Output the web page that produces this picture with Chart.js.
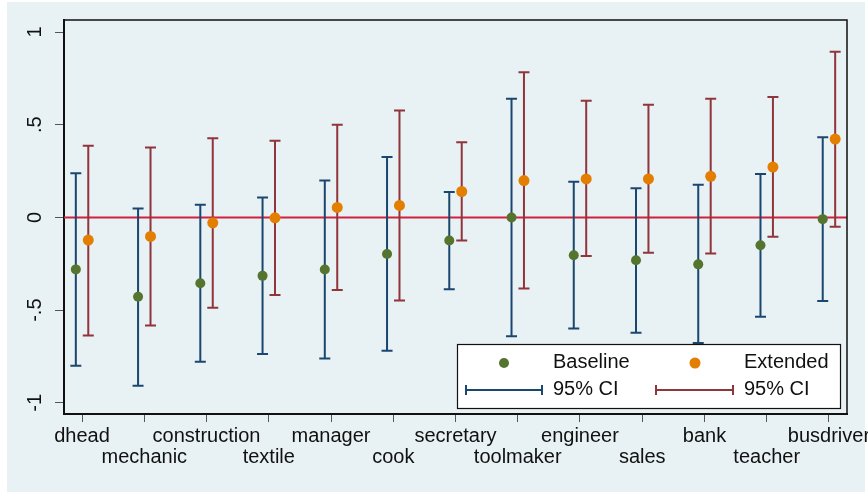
<!DOCTYPE html>
<html>
<head>
<meta charset="utf-8">
<script src="https://cdn.jsdelivr.net/npm/chart.js@4/dist/chart.umd.min.js"></script>
<style>
  html, body { margin:0; padding:0; background:#fff; }
  canvas { display:block; }
</style>
</head>
<body>
<canvas id="coefChart" width="868" height="492"></canvas>
<script>
const categories = ['dhead','mechanic','construction','textile','manager','cook','secretary','toolmaker','engineer','sales','bank','teacher','busdriver'];

const baseCoef = [-0.28, -0.428, -0.355, -0.315, -0.281, -0.197, -0.124, 0.0, -0.204, -0.231, -0.253, -0.15, -0.009];
const baseLo   = [-0.80, -0.907, -0.778, -0.737, -0.76, -0.719, -0.387, -0.64, -0.599, -0.622, -0.677, -0.536, -0.45];
const baseHi   = [0.238, 0.048, 0.068, 0.108, 0.199, 0.326, 0.138, 0.64, 0.192, 0.158, 0.176, 0.235, 0.432];

const extCoef = [-0.122, -0.102, -0.029, -0.002, 0.054, 0.065, 0.14, 0.199, 0.208, 0.208, 0.222, 0.272, 0.423];
const extLo   = [-0.636, -0.583, -0.487, -0.418, -0.391, -0.448, -0.124, -0.383, -0.208, -0.19, -0.195, -0.104, -0.05];
const extHi   = [0.387, 0.378, 0.427, 0.414, 0.5, 0.577, 0.405, 0.783, 0.629, 0.608, 0.64, 0.65, 0.894];

const yTicks = [-1, -0.5, 0, 0.5, 1];
const yTickLabels = ['-1', '-.5', '0', '.5', '1'];

const NAVY = '#1a476f', MAROON = '#90353b', GREEN = '#55752f', ORANGE = '#e37e00';
const BG = '#e8f1f3';
const FONT = "'Liberation Sans', Arial, sans-serif";
const SHIFT = 0.1; // side-by-side offset of the two models

const ciSets = [
  {lo: baseLo, hi: baseHi, dx: -SHIFT, color: NAVY},
  {lo: extLo,  hi: extHi,  dx:  SHIFT, color: MAROON}
];

// page background, zero line, CI whiskers, frame and legend
const decor = {
  id: 'decor',
  beforeDraw(chart){
    const c = chart.ctx;
    c.save();
    c.fillStyle = BG;
    c.fillRect(7, 2, 858, 490);
    c.restore();
  },
  beforeDatasetsDraw(chart){
    const c = chart.ctx, xs = chart.scales.x, ys = chart.scales.y, a = chart.chartArea;
    c.save();
    // y = 0 reference line
    c.strokeStyle = '#d0213f'; c.lineWidth = 2;
    const y0 = ys.getPixelForValue(0);
    c.beginPath(); c.moveTo(a.left, y0); c.lineTo(a.right, y0); c.stroke();
    // confidence intervals
    c.lineWidth = 2;
    ciSets.forEach(s=>{
      c.strokeStyle = s.color;
      categories.forEach((_, i)=>{
        const x = xs.getPixelForValue(i + 1 + s.dx);
        const yl = ys.getPixelForValue(s.lo[i]), yh = ys.getPixelForValue(s.hi[i]);
        c.beginPath();
        c.moveTo(x, yl); c.lineTo(x, yh);
        c.moveTo(x - 5.5, yl); c.lineTo(x + 5.5, yl);
        c.moveTo(x - 5.5, yh); c.lineTo(x + 5.5, yh);
        c.stroke();
      });
    });
    c.restore();
  },
  afterDraw(chart){
    const c = chart.ctx, ys = chart.scales.y, a = chart.chartArea;
    c.save();
    // top and right frame
    c.strokeStyle = '#111'; c.lineWidth = 1.5;
    c.beginPath(); c.moveTo(a.left, a.top); c.lineTo(a.right, a.top); c.lineTo(a.right, a.bottom); c.stroke();
    // rotated y tick labels
    c.fillStyle = '#111';
    c.font = '20px ' + FONT;
    c.textAlign = 'center'; c.textBaseline = 'middle';
    yTicks.forEach((v, i)=>{
      c.save();
      c.translate(35, ys.getPixelForValue(v));
      c.rotate(-Math.PI / 2);
      c.fillText(yTickLabels[i], 0, 0);
      c.restore();
    });
    // legend
    const lx = 457, ly = 344, lw = 383, lh = 64;
    c.fillStyle = '#fff'; c.fillRect(lx, ly, lw, lh);
    c.strokeStyle = '#111'; c.lineWidth = 1.2; c.strokeRect(lx + 0.5, ly + 0.5, lw, lh);
    c.textAlign = 'left'; c.fillStyle = '#111';
    c.fillText('Baseline', 553, 362);
    c.fillText('Extended', 744, 362);
    c.fillText('95% CI', 553, 389);
    c.fillText('95% CI', 744, 389);
    c.fillStyle = GREEN; c.beginPath(); c.arc(504, 363, 5, 0, Math.PI * 2); c.fill();
    c.fillStyle = ORANGE; c.beginPath(); c.arc(695, 363, 5.5, 0, Math.PI * 2); c.fill();
    [[466, 542, NAVY], [656, 733, MAROON]].forEach(([x1, x2, col])=>{
      c.strokeStyle = col; c.lineWidth = 2;
      c.beginPath();
      c.moveTo(x1, 390); c.lineTo(x2, 390);
      c.moveTo(x1, 385); c.lineTo(x1, 395);
      c.moveTo(x2, 385); c.lineTo(x2, 395);
      c.stroke();
    });
    c.restore();
  }
};

new Chart(document.getElementById('coefChart'), {
  type: 'scatter',
  data: {
    datasets: [
      {label:'Baseline', data: baseCoef.map((v, i)=>({x: i + 1 - SHIFT, y: v})), backgroundColor: GREEN, pointRadius: 5, borderWidth: 0},
      {label:'Extended', data: extCoef.map((v, i)=>({x: i + 1 + SHIFT, y: v})), backgroundColor: ORANGE, pointRadius: 5.5, borderWidth: 0}
    ]
  },
  options: {
    responsive: false,
    animation: false,
    devicePixelRatio: 1,
    layout: {padding: {left: 0, top: 20, right: 21, bottom: 0}},
    plugins: {legend: {display: false}, tooltip: {enabled: false}},
    scales: {
      x: {
        type: 'linear', min: 0.71, max: 13.29,
        afterBuildTicks: s => { s.ticks = categories.map((_, i)=>({value: i + 1})); },
        // let the last label run past the frame instead of shrinking the plot
        afterFit: s => { s.height = 78; s.paddingLeft = 0; s.paddingRight = 0; },
        border: {display: true, color: '#111', width: 2},
        grid: {display: true, drawOnChartArea: false, drawTicks: true, tickLength: 8, color: '#555'},
        ticks: {
          autoSkip: false, maxRotation: 0, minRotation: 0, padding: 4,
          color: '#111', font: {family: FONT, size: 20, lineHeight: 1.05},
          callback: v => { const i = Math.round(v) - 1; return i % 2 ? ['', categories[i]] : [categories[i]]; }
        }
      },
      y: {
        min: -1.06, max: 1.065,
        afterBuildTicks: s => { s.ticks = yTicks.map(v=>({value: v})); },
        afterFit: s => { s.width = 64; s.paddingTop = 0; s.paddingBottom = 0; },
        border: {display: true, color: '#111', width: 2},
        grid: {display: true, drawOnChartArea: false, drawTicks: true, tickLength: 9, color: '#555'},
        ticks: {display: false}
      }
    }
  },
  plugins: [decor]
});
</script>
</body>
</html>
